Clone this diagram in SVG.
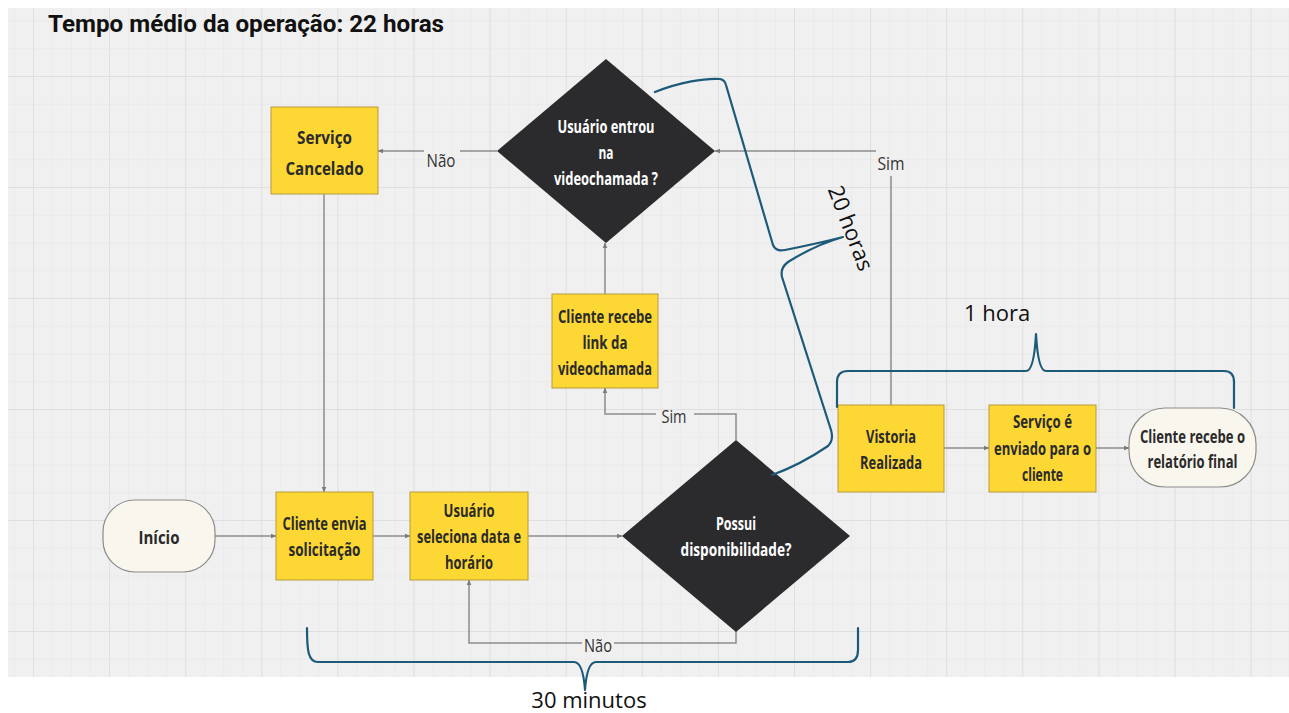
<svg xmlns="http://www.w3.org/2000/svg" width="1289" height="713" viewBox="0 0 1289 713">
<style>
.n{font-family:"Open Sans","Noto Sans",sans-serif;font-weight:700;font-size:18.5px;fill:#2a2a2a;text-anchor:middle}
.w{fill:#ffffff}
.box{fill:#fdd835;stroke:#b59a3a;stroke-width:1}
.pill{fill:#f9f6ee;stroke:#8c8c8c;stroke-width:1.2}
.dia{fill:#2b2b2e}
.c{fill:none;stroke:#8c8c8c;stroke-width:1.5}
.lbl{font-family:"Open Sans","Noto Sans",sans-serif;font-size:19px;fill:#333;text-anchor:middle}
.br{fill:none;stroke:#1d5a7a;stroke-width:2.2;stroke-linecap:round;stroke-linejoin:round}
.ann{font-family:"Open Sans","Noto Sans",sans-serif;font-size:22px;fill:#111;text-anchor:middle}
</style>
<defs>
<pattern id="minor" x="33" y="76" width="19.025" height="27.75" patternUnits="userSpaceOnUse">
<path d="M0,0 V27.75 M0,0 H19.025" stroke="#e6e6e6" stroke-width="1" fill="none"/>
</pattern>
<pattern id="major" x="33" y="76" width="76.1" height="111" patternUnits="userSpaceOnUse">
<path d="M0,0 V111 M0,0 H76.1" stroke="#dcdcdc" stroke-width="1.5" fill="none"/>
</pattern>
<marker id="arr" viewBox="0 0 10 10" refX="9" refY="5" markerWidth="6" markerHeight="6" orient="auto" markerUnits="userSpaceOnUse">
<path d="M0,1 L10,5 L0,9 z" fill="#7a7a7a"/>
</marker>
</defs>
<rect width="1289" height="713" fill="#ffffff"/>
<rect x="8" y="8" width="1281" height="669" fill="#f0f0f0"/>
<rect x="8" y="8" width="1281" height="669" fill="url(#minor)"/>
<rect x="8" y="8" width="1281" height="669" fill="url(#major)"/>

<text x="48" y="32" font-family="Roboto,'Liberation Sans',sans-serif" font-weight="700" font-size="23" fill="#111" textLength="396" lengthAdjust="spacingAndGlyphs">Tempo médio da operação: 22 horas</text>

<g id="connectors">
<path class="c" d="M215,536 H276" marker-end="url(#arr)"/>
<path class="c" d="M373,536 H410" marker-end="url(#arr)"/>
<path class="c" d="M528,536 H622" marker-end="url(#arr)"/>
<path class="c" d="M736,440 V414 H694"/>
<path class="c" d="M656,414 H605 V388" marker-end="url(#arr)"/>
<path class="c" d="M736,631 V643 H614"/>
<path class="c" d="M582,643 H469 V580" marker-end="url(#arr)"/>
<path class="c" d="M605,294 V243" marker-end="url(#arr)"/>
<path class="c" d="M497,151 H460"/>
<path class="c" d="M424,151 H378" marker-end="url(#arr)"/>
<path class="c" d="M891,405 V176"/>
<path class="c" d="M876,151 H715" marker-end="url(#arr)"/>
<path class="c" d="M944,448 H989" marker-end="url(#arr)"/>
<path class="c" d="M1096,448 H1129" marker-end="url(#arr)"/>
<path class="c" d="M324,194 V492" marker-end="url(#arr)"/>
<text class="lbl" x="674" y="423" textLength="25" lengthAdjust="spacingAndGlyphs">Sim</text>
<text class="lbl" x="598" y="652" textLength="28" lengthAdjust="spacingAndGlyphs">Não</text>
<text class="lbl" x="441" y="167" textLength="29" lengthAdjust="spacingAndGlyphs">Não</text>
<text class="lbl" x="891" y="170" textLength="27" lengthAdjust="spacingAndGlyphs">Sim</text>
</g>

<g id="inicio">
<rect class="pill" x="103" y="500" width="112" height="72" rx="32"/>
<text class="n" x="159" y="544" font-size="19.5" textLength="41" lengthAdjust="spacingAndGlyphs">Início</text>
</g>
<g id="cliente-envia">
<rect class="box" x="276" y="492" width="97" height="88"/>
<text class="n" x="324.5" y="530" textLength="84" lengthAdjust="spacingAndGlyphs">Cliente envia</text>
<text class="n" x="324.5" y="556" textLength="72" lengthAdjust="spacingAndGlyphs">solicitação</text>
</g>
<g id="usuario-seleciona">
<rect class="box" x="410" y="492" width="118" height="88"/>
<text class="n" x="469" y="517" textLength="51" lengthAdjust="spacingAndGlyphs">Usuário</text>
<text class="n" x="469" y="543" textLength="104" lengthAdjust="spacingAndGlyphs">seleciona data e</text>
<text class="n" x="469" y="569" textLength="48" lengthAdjust="spacingAndGlyphs">horário</text>
</g>
<g id="possui">
<polygon class="dia" points="736,440 850,536 736,632 622,536"/>
<text class="n w" x="736" y="530" textLength="40" lengthAdjust="spacingAndGlyphs">Possui</text>
<text class="n w" x="736" y="556" textLength="111" lengthAdjust="spacingAndGlyphs">disponibilidade?</text>
</g>
<g id="cliente-recebe-link">
<rect class="box" x="552" y="294" width="106" height="94"/>
<text class="n" x="605" y="323" textLength="94" lengthAdjust="spacingAndGlyphs">Cliente recebe</text>
<text class="n" x="605" y="349" textLength="45" lengthAdjust="spacingAndGlyphs">link da</text>
<text class="n" x="605" y="375" textLength="94" lengthAdjust="spacingAndGlyphs">videochamada</text>
</g>
<g id="usuario-entrou">
<polygon class="dia" points="606,59 715,151 606,243 497,151"/>
<text class="n w" x="606" y="133" textLength="97" lengthAdjust="spacingAndGlyphs">Usuário entrou</text>
<text class="n w" x="606" y="159" textLength="15" lengthAdjust="spacingAndGlyphs">na</text>
<text class="n w" x="606" y="185" textLength="104" lengthAdjust="spacingAndGlyphs">videochamada ?</text>
</g>
<g id="servico-cancelado">
<rect class="box" x="271" y="107" width="107" height="87"/>
<text class="n" x="324.5" y="144" font-size="20.5" textLength="55" lengthAdjust="spacingAndGlyphs">Serviço</text>
<text class="n" x="324.5" y="175" font-size="20.5" textLength="78" lengthAdjust="spacingAndGlyphs">Cancelado</text>
</g>
<g id="vistoria">
<rect class="box" x="838" y="405" width="106" height="87"/>
<text class="n" x="891" y="443" textLength="50" lengthAdjust="spacingAndGlyphs">Vistoria</text>
<text class="n" x="891" y="469" textLength="62" lengthAdjust="spacingAndGlyphs">Realizada</text>
</g>
<g id="servico-enviado">
<rect class="box" x="989" y="405" width="107" height="87"/>
<text class="n" x="1042.5" y="428" textLength="59" lengthAdjust="spacingAndGlyphs">Serviço é</text>
<text class="n" x="1042.5" y="455" textLength="97" lengthAdjust="spacingAndGlyphs">enviado para o</text>
<text class="n" x="1042.5" y="481" textLength="41" lengthAdjust="spacingAndGlyphs">cliente</text>
</g>
<g id="cliente-recebe-relatorio">
<rect class="pill" x="1129" y="408" width="127" height="79" rx="36"/>
<text class="n" x="1192.5" y="443" textLength="105" lengthAdjust="spacingAndGlyphs">Cliente recebe o</text>
<text class="n" x="1192.5" y="468" textLength="90" lengthAdjust="spacingAndGlyphs">relatório final</text>
</g>

<g id="braces">
<path class="br" d="M307,628 C307,650 308,662 318,662 H574 Q583,662 585,690 Q587,662 596,662 H848 Q858,662 858,650 V628"/>
<path class="br" d="M837,407 V382 Q837,371 848,371 H1026 Q1034,371 1036,334 Q1038,371 1046,371 H1224 Q1234,371 1234,382 V408"/>
<path class="br" d="M655,92 C680,82 705,78 720,79 Q725,80 726,85 L773,245 Q776,252 785,250 Q820,243 843,237 Q815,245 788,262 Q780,268 782,277 L831,430 Q834,440 828,446 Q800,465 772,475"/>
<text class="ann" x="997" y="321">1 hora</text>
<text class="ann" x="589" y="708">30 minutos</text>
<text class="ann" transform="translate(851,228) rotate(69)" x="0" y="8">20 horas</text>
</g>
</svg>
